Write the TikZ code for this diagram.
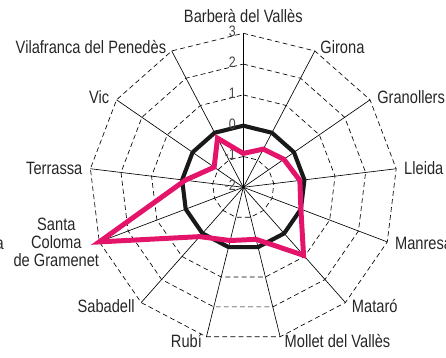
\documentclass[tikz,border=0pt]{standalone}
\usepackage{fontspec}
\setmainfont{Liberation Sans}[FakeStretch=0.82]
\usepackage{xcolor}

\definecolor{seriespink}{RGB}{229,20,107}
\definecolor{ticktext}{RGB}{70,70,70}

\tikzset{
    spoke/.style={black, line width=0.6pt},
    gridring/.style={black, line width=0.6pt, dash pattern=on 4.5pt off 3pt},
    zeroring/.style={black!90, line width=3.8pt, line join=miter},
    seriesline/.style={seriespink, line width=4.6pt, line join=miter},
    citylabel/.style={font=\fontsize{16.5}{16.6}\selectfont, text=black!85, inner sep=3pt},
    ticklabel/.style={font=\fontsize{14}{15}\selectfont, text=ticktext, inner sep=0pt, anchor=east}
}

\begin{document}
\begin{tikzpicture}
    \useasboundingbox (-7.899,-5.510) rectangle (6.581,6.081);

    % Centre and axis end points
    \coordinate (o) at (0,0);
    \foreach \n in {0,...,12}
        \coordinate (axis\n) at ({90-\n*360/13}:5);

    % Dashed rings
    \foreach \r in {1,3,4,5}
        \draw[gridring] (90:\r) \foreach \n in {1,...,12} {-- ({90-\n*360/13}:\r)} -- cycle;

    % Spokes
    \foreach \n in {0,...,12}
        \draw[spoke] (o) -- (axis\n);

    % Zero ring
    \draw[zeroring] (90:2) \foreach \n in {1,...,12} {-- ({90-\n*360/13}:2)} -- cycle;

    % Scale labels
    \foreach \val [count=\k from 0] in {-2,-1,0,1,2,3}
        \node[ticklabel] (tick\k) at (-0.24,\k+0.06) {\val};

    % Data points
    \foreach \v [count=\n from 0] in {1.1,1.4,1.6,1.85,2.0,2.95,1.74,1.78,2.14,5,1.9,1.15,1.8}
        \coordinate (p\n) at ({90-\n*360/13}:\v);
    \draw[seriesline] (p0) \foreach \n in {1,...,12} {-- (p\n)} -- cycle;

    % City labels
    \foreach \n/\rad/\anc/\name in {0/5.22/south/{Barberà del Vallès},
        1/5.15/west/Girona, 2/5.15/west/Granollers, 3/5.15/west/Lleida,
        4/5.15/west/Manresa, 5/5.15/west/Mataró, 6/5.15/west/{Mollet del Vallès},
        7/5.15/east/Rubí, 8/5.15/east/Sabadell, 10/5.15/east/Terrassa,
        11/5.15/east/Vic, 12/5.15/east/{Vilafranca del Penedès}}
        \node[citylabel, anchor=\anc] (city\n) at ({90-\n*360/13}:\rad) {\name};
    \node[citylabel, anchor=east, inner sep=0pt, align=center] (city9) at (axis9) {Santa\\Coloma\\de Gramenet};
    \node[citylabel, anchor=east, inner sep=0pt] (cut) at (-7.77,-1.87) {a};
\end{tikzpicture}
\end{document}
